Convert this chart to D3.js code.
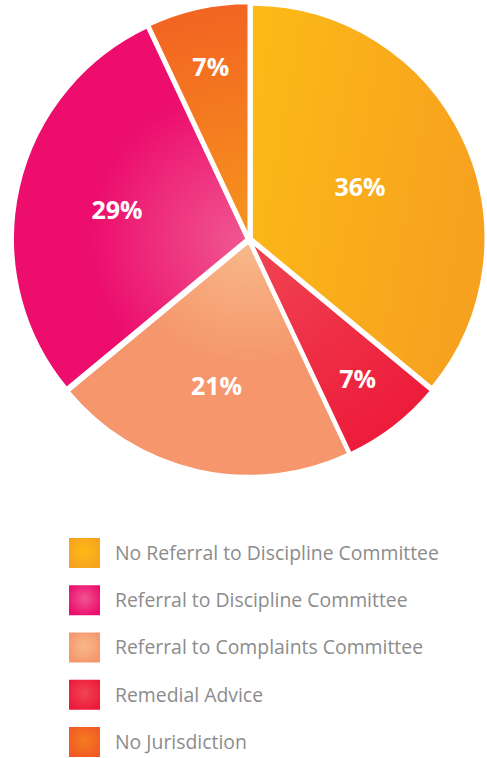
<!DOCTYPE html>
<html><head><meta charset="utf-8">
<script src="https://cdn.jsdelivr.net/npm/d3@7"></script>
<style>html,body{margin:0;padding:0;background:#fff;}svg{display:block;}</style>
</head><body>
<script>
// Data (pie order, clockwise from 12 o'clock)
const categories = ["No Referral to Discipline Committee","Remedial Advice","Referral to Complaints Committee","Referral to Discipline Committee","No Jurisdiction"];
const values = [36, 7, 21, 29, 7];
const labels = ["36%","7%","21%","29%","7%"];
const legendOrder = ["No Referral to Discipline Committee","Referral to Discipline Committee","Referral to Complaints Committee","Remedial Advice","No Jurisdiction"];
// colours: [light, dark] per category
const colorLight = ["#fcba16","#f04552","#f8b98a","#f05590","#f7941d"];
const colorDark  = ["#f7a21f","#ed1a3a","#f5966c","#ec0d6d","#f26522"];

const W = 487, H = 758;
const svg = d3.select("body").append("svg").attr("width", W).attr("height", H);
const defs = svg.append("defs");

const cx = 249.3, cy = 239.5, R = 234, explode = 2.6;

// gradients (userSpace coords are local to each slice: apex at 0,0)
const gradR = [0, 240, 125, 150, 230];
categories.forEach((c, i) => {
  let g;
  if (i === 0) {
    g = defs.append("linearGradient").attr("id", "g" + i).attr("x1", "0").attr("y1", "0").attr("x2", "1").attr("y2", "0.3");
    g.append("stop").attr("offset", "0%").attr("stop-color", colorLight[i]);
    g.append("stop").attr("offset", "100%").attr("stop-color", colorDark[i]);
  } else {
    g = defs.append("radialGradient").attr("id", "g" + i).attr("gradientUnits", "userSpaceOnUse")
      .attr("cx", i === 3 ? -8 : 0).attr("cy", 0).attr("r", gradR[i]);
    g.append("stop").attr("offset", "0%").attr("stop-color", colorLight[i]);
    g.append("stop").attr("offset", i === 1 || i === 4 ? "100%" : "100%").attr("stop-color", colorDark[i]);
  }
  const lg = defs.append("radialGradient").attr("id", "lg" + i).attr("cx", "0.5").attr("cy", "0.45").attr("r", "0.6");
  lg.append("stop").attr("offset", "0%").attr("stop-color", i === 4 ? "#f47b20" : colorLight[i]);
  lg.append("stop").attr("offset", "100%").attr("stop-color", i === 4 ? "#f15a24" : colorDark[i]);
});

const pie = d3.pie().sort(null).value(d => d)(values);
const arc = d3.arc().innerRadius(0).outerRadius(R);
const g = svg.append("g").attr("transform", `translate(${cx},${cy})`);

const slices = g.selectAll("g.slice").data(pie).join("g").attr("class", "slice")
  .attr("transform", d => {
    const a = (d.startAngle + d.endAngle) / 2;
    return `translate(${Math.sin(a) * explode},${-Math.cos(a) * explode})`;
  });
slices.append("path").attr("d", arc)
  .attr("fill", (d, i) => `url(#g${i})`)
  .attr("stroke", "#fff").attr("stroke-width", 2.5).attr("stroke-linejoin", "round");

slices.append("text")
  .attr("transform", d => {
    const a = (d.startAngle + d.endAngle) / 2;
    const lr = (0.8 - d.value * 0.008) * R;
    return `translate(${Math.sin(a) * lr},${-Math.cos(a) * lr})`;
  })
  .attr("text-anchor", "middle").attr("dy", "0.36em")
  .attr("fill", "#fff").attr("font-family", "'Open Sans', sans-serif")
  .attr("font-weight", "bold").attr("font-size", 25)
  .text((d, i) => labels[i]);

// legend
const ly = d3.scalePoint().domain(legendOrder).range([553, 742]);
const leg = svg.append("g").selectAll("g").data(legendOrder).join("g")
  .attr("transform", d => `translate(69,${ly(d)})`);
leg.append("rect").attr("x", 0).attr("y", -15).attr("width", 31).attr("height", 30)
  .attr("fill", d => `url(#lg${categories.indexOf(d)})`);
leg.append("text").attr("x", 46).attr("y", 0).attr("dy", "0.35em")
  .attr("fill", "#8c8c8c").attr("font-family", "'Open Sans', sans-serif").attr("font-size", 19.4)
  .text(d => d);
</script>
</body></html>
